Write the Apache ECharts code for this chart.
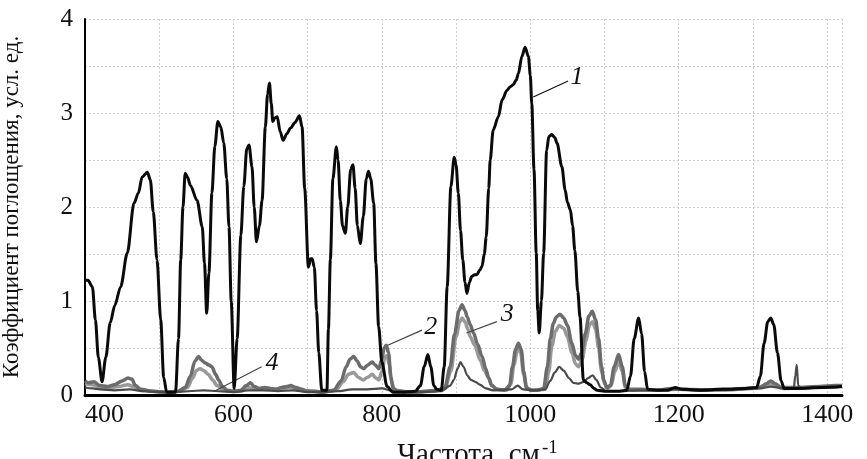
<!DOCTYPE html>
<html>
<head>
<meta charset="utf-8">
<script src="https://cdn.jsdelivr.net/npm/echarts@6/dist/echarts.min.js"></script>
<style>html,body{margin:0;padding:0;background:#fff;}#c{width:867px;height:459px;}</style>
</head>
<body>
<div id="c"></div>
<script>
// Curve 1 (black)
var freq1 = [400,404,410,414,418,423,428,434,440,448,457,466,472,477,484,488,492,497,502,506,510,522,526,529,532,535,538,542,551,558,561,564,567,571,575,579,583,587,591,594,597,601,605,610,614,618,621,625,628,631,635,638.6,643,646,648.5,651,653,656,659,663,667,672,677,683,689,692.5,696,701,704,706,709,712,715,719,726,728,730.6,734,738.7,741,744,747,750.8,754,758,761,764,767,771,775,779,782,785,789,792,795.6,800,807,815,830,845,852,857,862,866,870,874,880,884,888,893,897.5,900,903,906,909,912,914.6,918,921,925,928,932,935,938,940.6,944,946,950,957,962,968.5,973,977,981,984,988.6,993,997.5,1000,1002,1005,1008,1010,1012,1015,1018,1022,1025,1029,1033,1036,1042.5,1047,1050,1054,1057,1060,1064,1067,1071.5,1076,1080.6,1086,1090,1100,1120,1130,1135,1140,1146,1150,1154,1158,1170,1185,1195,1205,1230,1260,1290,1305,1310,1315,1320,1324,1328,1333,1338,1342,1360,1390,1420];
var abs1 = [1.22,1.22,1.15,0.8,0.4,0.14,0.4,0.77,0.95,1.15,1.51,2.04,2.15,2.32,2.37,2.29,1.95,1.44,0.8,0.19,0.03,0.03,0.6,1.44,2.0,2.36,2.32,2.23,2.07,1.79,1.4,0.87,1.3,2.15,2.65,2.91,2.85,2.68,2.3,1.79,1.0,0.07,0.6,1.7,2.22,2.62,2.66,2.43,2.0,1.63,1.8,2.07,2.85,3.2,3.32,3.1,2.91,2.95,2.96,2.8,2.71,2.78,2.84,2.9,2.97,2.85,2.2,1.36,1.45,1.45,1.36,0.9,0.45,0.05,0.05,0.7,1.44,2.3,2.64,2.5,2.07,1.8,1.72,2.0,2.4,2.45,2.2,1.8,1.61,1.9,2.3,2.38,2.3,2.04,1.4,0.73,0.35,0.09,0.03,0.03,0.04,0.1,0.3,0.43,0.3,0.1,0.06,0.05,0.3,1.15,2.22,2.53,2.45,2.15,1.75,1.44,1.2,1.08,1.2,1.26,1.28,1.28,1.33,1.37,1.5,1.68,2.2,2.5,2.82,2.96,3.14,3.24,3.28,3.3,3.35,3.42,3.6,3.7,3.6,3.4,3.1,2.4,1.51,0.9,0.66,1.0,1.51,2.6,2.75,2.77,2.74,2.68,2.43,2.18,2.05,1.97,1.8,1.54,1.1,0.83,0.16,0.13,0.11,0.07,0.05,0.04,0.04,0.05,0.2,0.6,0.82,0.65,0.25,0.06,0.05,0.05,0.08,0.06,0.05,0.06,0.07,0.08,0.2,0.55,0.78,0.82,0.75,0.45,0.15,0.07,0.07,0.08,0.09];

// Curve 2 (medium grey)
var freq2 = [400,405,412,420,430,440,450,458,463,468,475,490,510,525,535,542,548,553,557,562,567,571,576,580,585,592,600,610,617,623,628,635,642,650,658,665,672,677,684,692,700,710,720,735,745,752,757,762,767,771,775.5,781,787,791,796,800,803,806,809,812,815,822,840,860,875,885,892,898,904,908,912,915,919,923.5,929,935,940,944,948,955,965,972,976,980,984,988,991,995,1000,1010,1018,1023,1027,1031,1035,1040,1045,1050,1056,1061,1065,1069,1074,1079,1083.5,1088,1092,1096,1099,1103,1108,1113,1119,1124,1128,1133,1150,1170,1190,1200,1230,1260,1290,1310,1318,1324,1330,1338,1360,1390,1410,1420];
var abs2 = [0.15,0.13,0.14,0.10,0.09,0.11,0.15,0.18,0.17,0.10,0.06,0.04,0.03,0.04,0.08,0.2,0.36,0.41,0.37,0.34,0.32,0.30,0.22,0.16,0.09,0.05,0.04,0.05,0.1,0.13,0.09,0.07,0.08,0.07,0.06,0.08,0.09,0.1,0.08,0.06,0.04,0.04,0.03,0.05,0.15,0.30,0.38,0.41,0.36,0.30,0.28,0.32,0.35,0.32,0.28,0.38,0.50,0.53,0.45,0.2,0.07,0.04,0.03,0.04,0.05,0.08,0.3,0.65,0.9,0.96,0.9,0.83,0.75,0.66,0.54,0.41,0.28,0.18,0.1,0.06,0.05,0.1,0.3,0.48,0.55,0.48,0.25,0.08,0.05,0.05,0.07,0.3,0.6,0.76,0.83,0.86,0.82,0.74,0.55,0.42,0.38,0.45,0.65,0.84,0.89,0.8,0.6,0.3,0.16,0.08,0.1,0.3,0.43,0.3,0.1,0.06,0.06,0.05,0.07,0.06,0.05,0.06,0.07,0.08,0.12,0.15,0.12,0.08,0.08,0.09,0.1,0.1];

// Curve 3 (light grey)
var freq3 = [400,410,420,430,445,458,465,475,490,510,528,538,545,550,555,560,566,572,578,585,595,610,620,625,640,660,677,690,705,720,738,748,755,762,768,775,781,787,792,796,800,804,807,810,813,817,840,870,885,893,900,905,908,912,916,919,925,932.6,938,944,948,955,968,974,978,983,987,991,995,1005,1020,1025,1029,1034,1039,1045,1050,1056,1061,1065,1070,1075,1080,1084,1088,1092,1096,1100,1104,1109,1114,1119,1124,1128,1135,1170,1200,1260,1300,1318,1324,1330,1340,1380,1420];
var abs3 = [0.12,0.11,0.08,0.07,0.09,0.11,0.09,0.05,0.04,0.03,0.04,0.08,0.18,0.26,0.28,0.26,0.22,0.16,0.10,0.06,0.04,0.04,0.08,0.07,0.06,0.06,0.08,0.05,0.04,0.03,0.05,0.14,0.22,0.24,0.19,0.16,0.19,0.22,0.18,0.16,0.25,0.40,0.42,0.32,0.15,0.05,0.03,0.04,0.07,0.25,0.62,0.78,0.82,0.78,0.70,0.62,0.53,0.37,0.26,0.18,0.1,0.06,0.05,0.12,0.32,0.50,0.45,0.22,0.07,0.05,0.06,0.25,0.52,0.68,0.74,0.71,0.62,0.45,0.33,0.30,0.38,0.58,0.75,0.78,0.70,0.5,0.25,0.12,0.07,0.1,0.25,0.36,0.25,0.08,0.05,0.05,0.06,0.05,0.07,0.1,0.12,0.1,0.07,0.08,0.09];

// Curve 4 (dark grey)
var freq4 = [400,410,420,440,460,480,500,520,540,560,580,600,620,640,660,680,700,720,740,760,780,800,815,850,880,892,897,902,906,910,915,920,926,932,940,950,975,983,990,1005,1020,1027,1033,1039,1045,1052,1058,1065,1072,1078,1084,1089,1095,1102,1120,1150,1190,1230,1270,1310,1324,1340,1355,1357,1359,1361,1365,1400,1420];
var abs4 = [0.08,0.07,0.06,0.05,0.06,0.04,0.03,0.03,0.04,0.05,0.04,0.03,0.05,0.05,0.04,0.05,0.03,0.03,0.04,0.06,0.06,0.07,0.04,0.03,0.04,0.1,0.16,0.28,0.35,0.3,0.21,0.16,0.14,0.11,0.07,0.05,0.06,0.1,0.06,0.05,0.06,0.15,0.24,0.30,0.26,0.18,0.13,0.12,0.14,0.18,0.21,0.16,0.08,0.04,0.04,0.05,0.06,0.06,0.06,0.07,0.09,0.07,0.07,0.2,0.32,0.1,0.07,0.08,0.09];

// Annotation labels and leader lines (data coordinates)
var labelNames = ['1','2','3','4'];
var leaderFrom = [[1004,3.17],[808,0.53],[914,0.66],[573,0.035]];
var leaderTo   = [[1051,3.34],[854,0.69],[955,0.78],[638,0.30]];
var labelAt    = [[1063,3.38],[866,0.72],[969,0.86],[652,0.34]];

var xTicks = [400,600,800,1000,1200,1400];
var yTicks = [0,1,2,3,4];

function pairs(f, a){ return f.map(function(x,i){ return [x, a[i]]; }); }

var chart = echarts.init(document.getElementById('c'));
var serif = 'Liberation Serif';
var leaderColors = ['#111','#444','#444','#444'];

var annSeries = {
  type: 'line', data: [], silent: true, z: 10,
  markLine: {
    silent: true, symbol: ['none','none'], animation: false,
    label: {show: false},
    data: leaderFrom.map(function(p,i){
      return [{coord: p, lineStyle: {color: leaderColors[i], width: 1.2, type: 'solid'}}, {coord: leaderTo[i]}];
    })
  },
  markPoint: {
    silent: true, symbol: 'circle', symbolSize: 1, animation: false,
    itemStyle: {color: 'rgba(0,0,0,0)'},
    label: {show: true, position: 'inside', color: '#111', fontFamily: serif, fontStyle: 'italic', fontSize: 26},
    data: labelAt.map(function(p,i){ return {coord: p, value: labelNames[i], label: {formatter: labelNames[i]}}; })
  }
};

function lineSeries(name, f, a, color, width, z){
  return {
    name: name, type: 'line', data: pairs(f, a), showSymbol: false, symbol: 'none',
    smooth: 0.3, smoothMonotone: 'x', z: z,
    lineStyle: {color: color, width: width}, silent: true
  };
}

chart.setOption({
  animation: false,
  backgroundColor: '#fff',
  grid: {left: 85, right: 25, top: 19, bottom: 64, outerBoundsMode: 'none', containLabel: false},
  xAxis: {
    type: 'value', min: 400, max: 1420, interval: 100,
    name: 'Частота, см{sup|-1}',
    nameLocation: 'middle', nameGap: 44,
    nameTextStyle: {
      color: '#111', fontFamily: serif, fontSize: 29, padding: [0,0,0,28],
      rich: {sup: {fontFamily: serif, fontSize: 19, color: '#111', padding: [0,0,14,2]}}
    },
    axisLine: {show: true, onZero: false, lineStyle: {color: '#000', width: 3}},
    axisTick: {show: false},
    axisLabel: {
      color: '#111', fontFamily: serif, fontSize: 26, margin: 7, alignMinLabel: 'left',
      formatter: function(v){ return xTicks.indexOf(v) >= 0 ? String(v) : ''; }
    },
    splitLine: {show: true, lineStyle: {color: '#cfcfcf', type: [2,2], width: 1}}
  },
  yAxis: {
    type: 'value', min: 0, max: 4, interval: 0.5,
    name: 'Коэффициент поглощения, усл. ед.',
    nameLocation: 'middle', nameGap: 62,
    nameTextStyle: {color: '#111', fontFamily: serif, fontSize: 23},
    axisLine: {show: true, lineStyle: {color: '#000', width: 2}},
    axisTick: {show: false},
    axisLabel: {
      color: '#111', fontFamily: serif, fontSize: 25, margin: 12,
      formatter: function(v){ return yTicks.indexOf(v) >= 0 ? String(v) : ''; }
    },
    splitLine: {show: true, lineStyle: {color: '#cfcfcf', type: [2,2], width: 1}}
  },
  series: [
    lineSeries('3', freq3, abs3, '#999999', 3.5, 2),
    lineSeries('2', freq2, abs2, '#6c6c6c', 3.5, 3),
    lineSeries('4', freq4, abs4, '#4a4a4a', 2.2, 4),
    lineSeries('1', freq1, abs1, '#0a0a0a', 3, 5),
    annSeries
  ]
});
</script>
</body>
</html>
